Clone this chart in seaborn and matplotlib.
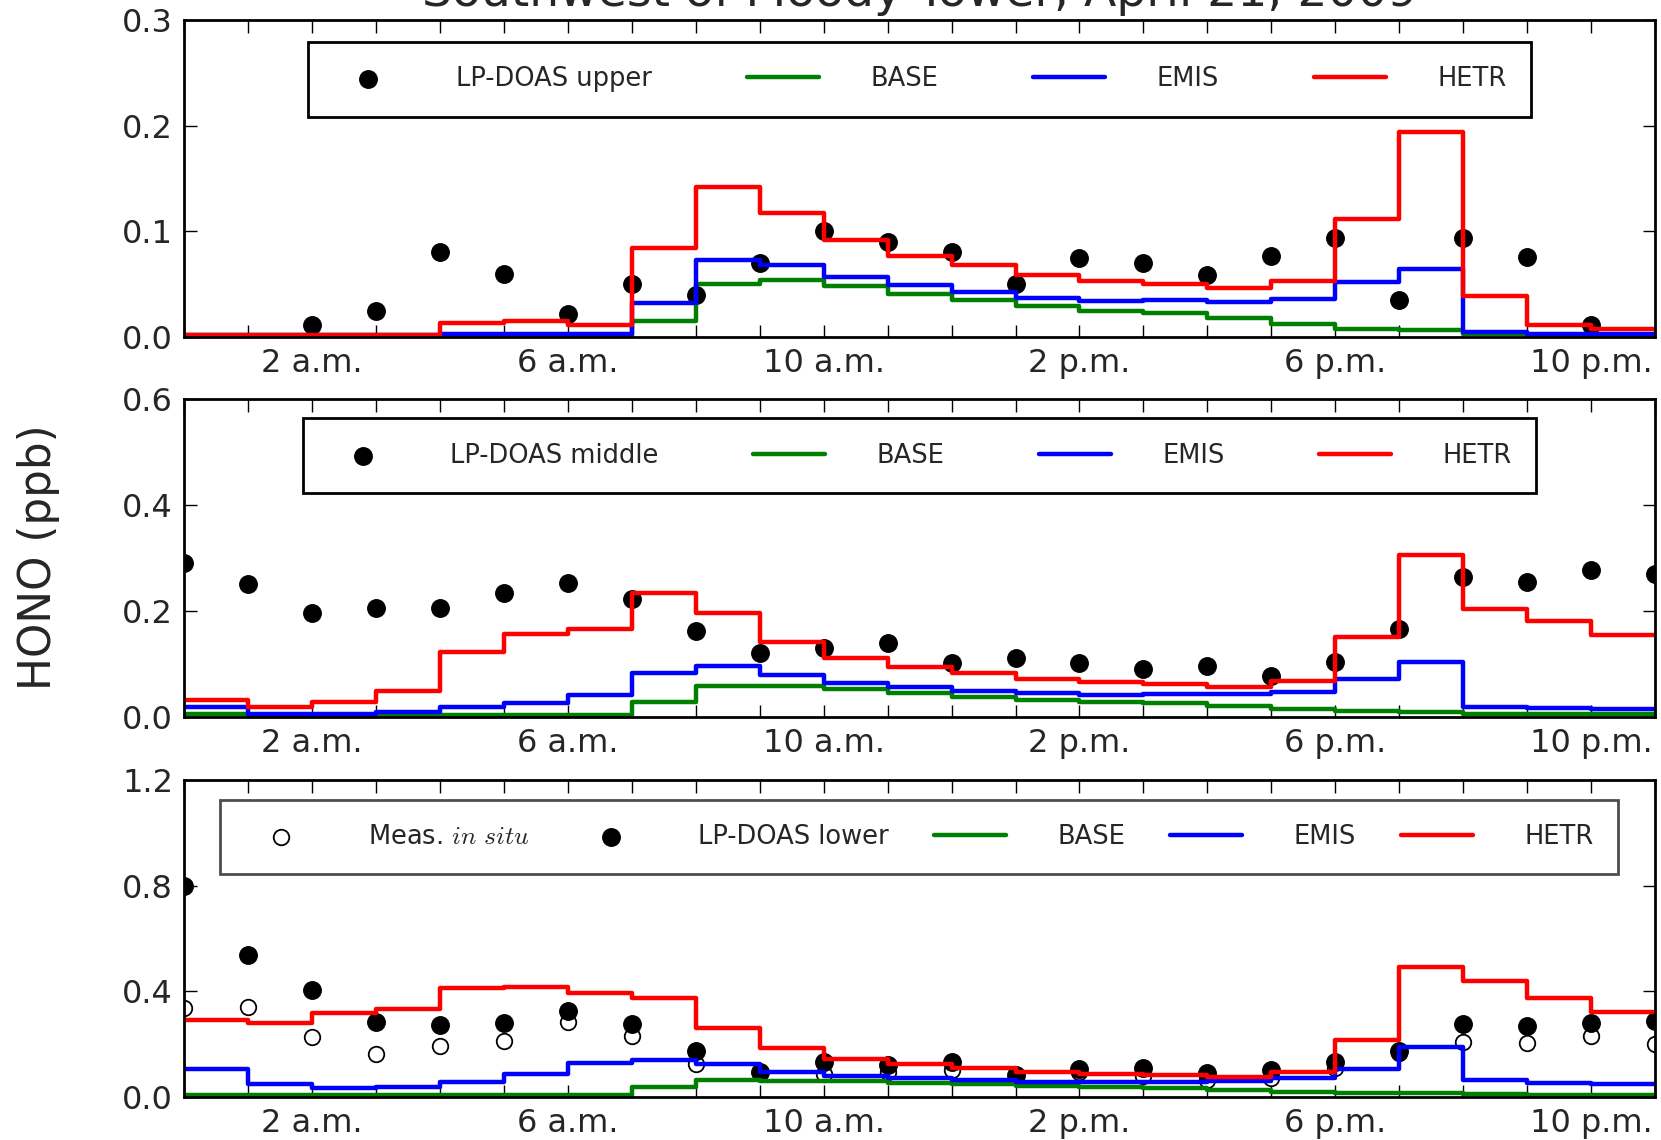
import numpy as np
import matplotlib
matplotlib.use("Agg")
import matplotlib.pyplot as plt
import seaborn as sns

sns.set_style("ticks", {"xtick.direction": "in", "ytick.direction": "in"})
plt.rcParams["font.family"] = ["DejaVu Sans"]
plt.rcParams["mathtext.fontset"] = "cm"

nan = np.nan
hours = np.arange(24)
tick_labels = ["2 a.m.", "6 a.m.", "10 a.m.", "2 p.m.", "6 p.m.", "10 p.m."]
tick_hours = [2, 6, 10, 14, 18, 22]

# upper level (hourly values, model values valid from h to h+1)
upper_doas = [nan, nan, 0.011, 0.025, 0.080, 0.060, 0.022, 0.050, 0.040, 0.070, 0.100, 0.090,
              0.080, 0.050, 0.075, 0.070, 0.059, 0.077, 0.094, 0.035, 0.094, 0.076, 0.011, nan]
upper_base = [0.001, 0.001, 0.001, 0.001, 0.001, 0.001, 0.001, 0.015, 0.050, 0.054, 0.048, 0.041,
              0.035, 0.029, 0.025, 0.023, 0.018, 0.012, 0.008, 0.007, 0.003, 0.002, 0.002]
upper_emis = [0.002, 0.002, 0.002, 0.002, 0.003, 0.003, 0.003, 0.032, 0.073, 0.068, 0.057, 0.049,
              0.043, 0.037, 0.034, 0.035, 0.033, 0.036, 0.052, 0.064, 0.005, 0.003, 0.003]
upper_hetr = [0.002, 0.002, 0.002, 0.002, 0.013, 0.015, 0.011, 0.084, 0.142, 0.117, 0.092, 0.077,
              0.068, 0.059, 0.053, 0.050, 0.046, 0.053, 0.112, 0.194, 0.039, 0.011, 0.008]

# middle level
middle_doas = [0.290, 0.250, 0.195, 0.205, 0.205, 0.233, 0.252, 0.223, 0.162, 0.121, 0.129, 0.140,
               0.101, 0.110, 0.101, 0.090, 0.096, 0.076, 0.104, 0.166, 0.263, 0.255, 0.277, 0.270]
middle_base = [0.005, 0.004, 0.004, 0.004, 0.004, 0.004, 0.004, 0.027, 0.058, 0.058, 0.053, 0.044,
               0.038, 0.031, 0.028, 0.026, 0.021, 0.014, 0.010, 0.009, 0.006, 0.005, 0.005]
middle_emis = [0.018, 0.006, 0.006, 0.008, 0.018, 0.025, 0.041, 0.083, 0.096, 0.079, 0.064, 0.057,
               0.049, 0.044, 0.041, 0.043, 0.042, 0.047, 0.071, 0.104, 0.018, 0.016, 0.015]
middle_hetr = [0.031, 0.018, 0.028, 0.048, 0.122, 0.156, 0.166, 0.234, 0.195, 0.142, 0.110, 0.094,
               0.082, 0.071, 0.065, 0.061, 0.057, 0.067, 0.151, 0.306, 0.203, 0.180, 0.154]

# lower level
lower_insitu = [0.335, 0.341, 0.225, 0.162, 0.193, 0.211, 0.284, 0.230, 0.124, 0.091, 0.085, 0.095,
                0.100, 0.076, 0.095, 0.080, 0.065, 0.070, 0.110, 0.165, 0.207, 0.205, 0.230, 0.200]
lower_doas = [0.800, 0.537, 0.404, 0.284, 0.272, 0.278, 0.326, 0.275, 0.174, 0.093, 0.132, 0.120,
              0.133, 0.083, 0.105, 0.107, 0.091, 0.103, 0.130, 0.174, 0.274, 0.267, 0.280, 0.286]
lower_base = [0.005, 0.005, 0.005, 0.005, 0.005, 0.005, 0.005, 0.035, 0.063, 0.061, 0.058, 0.053,
              0.047, 0.040, 0.035, 0.032, 0.025, 0.018, 0.015, 0.013, 0.010, 0.008, 0.008]
lower_emis = [0.104, 0.047, 0.032, 0.038, 0.057, 0.086, 0.129, 0.139, 0.123, 0.092, 0.078, 0.070,
              0.063, 0.057, 0.054, 0.057, 0.059, 0.070, 0.104, 0.187, 0.063, 0.053, 0.047]
lower_hetr = [0.291, 0.278, 0.316, 0.332, 0.411, 0.414, 0.394, 0.373, 0.259, 0.183, 0.142, 0.123,
              0.107, 0.095, 0.086, 0.082, 0.076, 0.095, 0.215, 0.490, 0.440, 0.375, 0.322]

model_colors = {"BASE": "#008000", "EMIS": "#0000ff", "HETR": "#ff0000"}

fig = plt.figure(figsize=(16.61, 11.40), dpi=100)
H = 1140.0
left, width = 184.2 / 1661, 1470.8 / 1661
rows = [(20, 337), (399, 716.7), (780, 1096.7)]
axes = [fig.add_axes([left, 1 - b / H, width, (b - t) / H]) for t, b in rows]


def steps(ax, vals, name):
    y = list(vals) + [vals[-1]]
    sns.lineplot(x=hours, y=y, drawstyle="steps-post", color=model_colors[name],
                 lw=3.2, label=name, estimator=None, ax=ax)


def dots(ax, vals, label, hollow=False):
    if hollow:
        sns.scatterplot(x=hours, y=vals, s=125, facecolor="white", edgecolor="black",
                        linewidth=1.3, label=label, ax=ax, zorder=2)
    else:
        sns.scatterplot(x=hours, y=vals, s=185, color="black", edgecolor="black",
                        linewidth=0, label=label, ax=ax, zorder=2)


panels = [
    (axes[0], [("LP-DOAS upper", upper_doas, False)], upper_base, upper_emis, upper_hetr,
     [0, 0.1, 0.2, 0.3], (0.0753, 0.700, 0.8492, 0.227), "black"),
    (axes[1], [("LP-DOAS middle", middle_doas, False)], middle_base, middle_emis, middle_hetr,
     [0, 0.2, 0.4, 0.6], (0.0717, 0.717, 0.8563, 0.210), "black"),
    (axes[2], [(r"Meas. $in\ situ$", lower_insitu, True), ("LP-DOAS lower", lower_doas, False)],
     lower_base, lower_emis, lower_hetr,
     [0, 0.4, 0.8, 1.2], (0.0157, 0.7105, 0.968, 0.219), "0.3"),
]

for ax, obs, base, emis, hetr, yt, bbox, edge in panels:
    for lab, vals, hollow in obs:
        dots(ax, vals, lab, hollow)
    steps(ax, base, "BASE")
    steps(ax, emis, "EMIS")
    steps(ax, hetr, "HETR")
    ax.set_xlim(0, 23)
    ax.set_ylim(yt[0], yt[-1])
    ax.set_yticks(yt)
    ax.set_yticklabels(["%.1f" % v for v in yt])
    ax.set_xticks(hours)
    ax.set_xticklabels([tick_labels[tick_hours.index(h)] if h in tick_hours else "" for h in hours])
    ax.tick_params(axis="both", which="major", direction="in", length=9, width=1,
                   top=True, right=True, labelsize=23, pad=8, color="black")
    ax.set_xlabel("")
    ax.set_ylabel("")
    for sp in ax.spines.values():
        sp.set_linewidth(2)
        sp.set_color("black")
    leg = ax.legend(loc="center", bbox_to_anchor=bbox, mode="expand", ncol=len(obs) + 3,
                    fontsize=18.5, handlelength=2.8, handletextpad=2.0, borderpad=0.95,
                    scatterpoints=1, fancybox=False, framealpha=1)
    leg.get_frame().set_edgecolor(edge)
    leg.get_frame().set_linewidth(2)

fig.text(38.5 / 1661, 1 - 557.5 / H, "HONO (ppb)", rotation=90, fontsize=31.5,
         ha="center", va="center")
fig.text((184.2 + 1470.8 / 2) / 1661, 1 - 6.5 / H, "Southwest of Moody Tower, April 21, 2009",
         fontsize=34, ha="center", va="baseline")

fig.savefig("out.png", dpi=100)
